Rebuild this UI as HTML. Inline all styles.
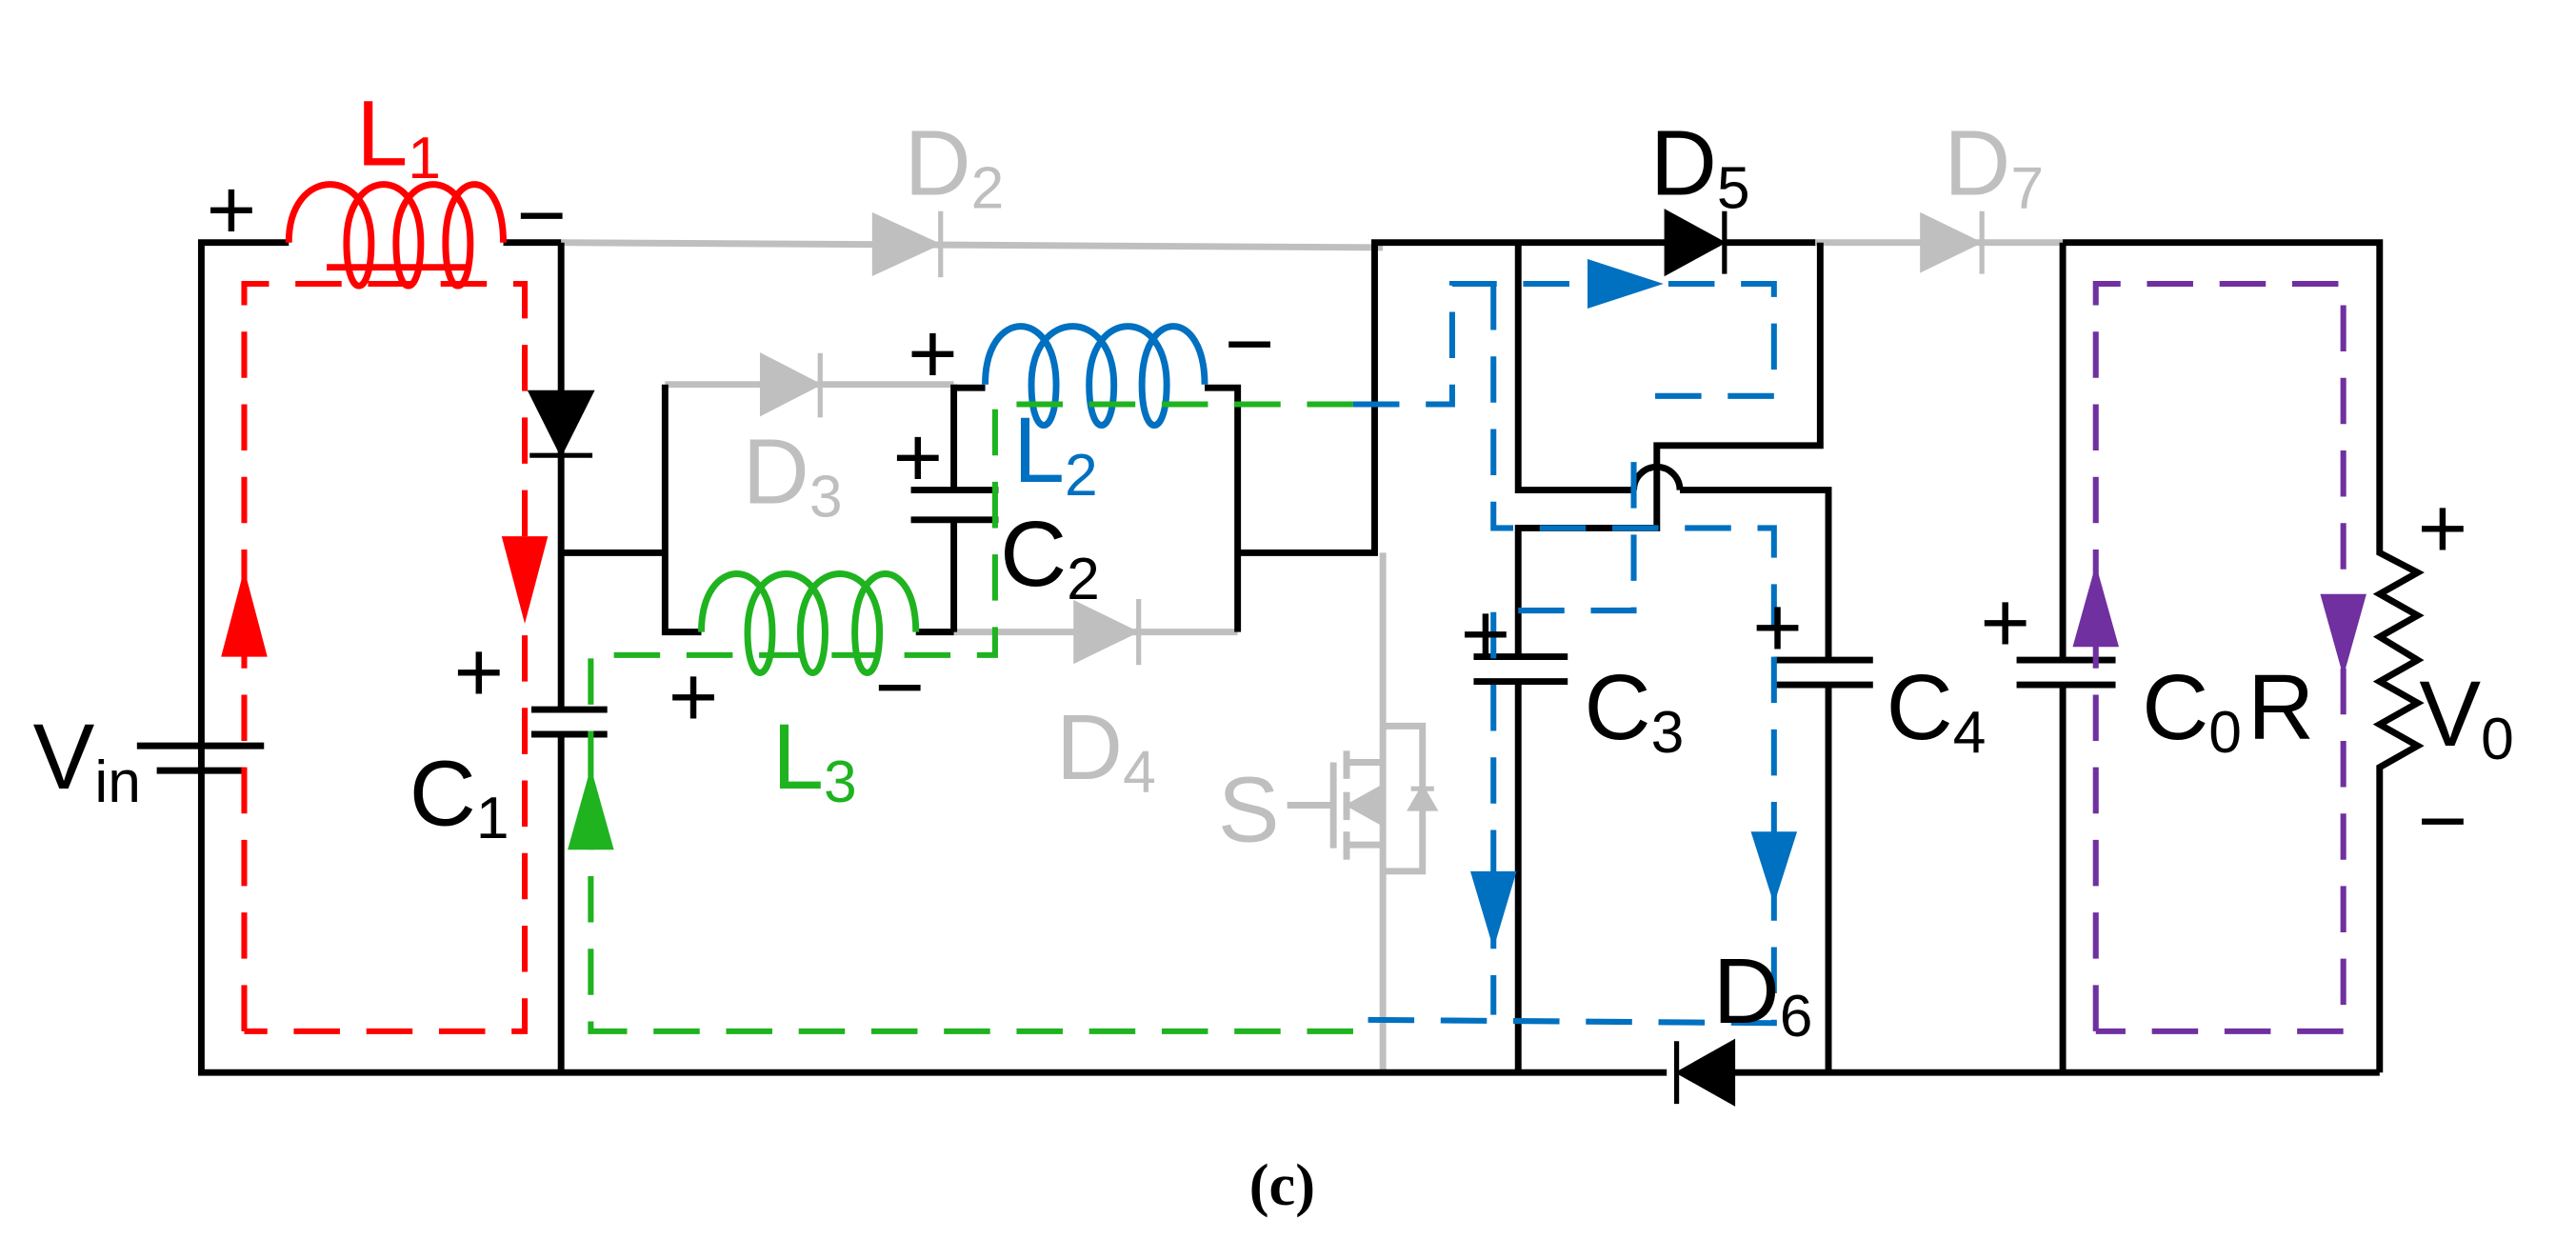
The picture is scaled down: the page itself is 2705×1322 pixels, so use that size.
<!DOCTYPE html>
<html><head><meta charset="utf-8"><style>html,body{margin:0;padding:0;background:#fff;width:2705px;height:1322px;overflow:hidden}svg{display:block}</style></head>
<body>
<svg width="2705" height="1322" viewBox="0 0 1561 763" preserveAspectRatio="none" xmlns="http://www.w3.org/2000/svg" font-family="Liberation Sans, DejaVu Sans, sans-serif">
<g fill="none" stroke-linecap="butt">
<g stroke="#bfbfbf" stroke-width="4">
<line x1="340" y1="147" x2="838" y2="150"/>
<line x1="403" y1="233" x2="578" y2="233"/>
<line x1="578" y1="383" x2="750" y2="383"/>
<line x1="1100" y1="147" x2="1250" y2="147"/>
<line x1="838" y1="335" x2="838" y2="650"/>
<line x1="780" y1="488" x2="808" y2="488"/>
<line x1="808" y1="462" x2="808" y2="514"/>
<line x1="816" y1="455" x2="816" y2="472"/><line x1="816" y1="480" x2="816" y2="497"/><line x1="816" y1="504" x2="816" y2="521"/>
<polyline points="816,462 838,462"/><polyline points="816,512 838,512"/>
<polyline points="838,440 862,440 862,528 838,528"/>
<line x1="816" y1="488" x2="838" y2="488"/>
</g>
<g fill="#bfbfbf" stroke="#bfbfbf" stroke-width="3">
<polygon points="530,131 567,148 530,165"/><line x1="570" y1="128" x2="570" y2="168"/>
<polygon points="462,216 495,233 462,250"/><line x1="497" y1="214" x2="497" y2="253"/>
<polygon points="652,366 687,383 652,400"/><line x1="690" y1="363" x2="690" y2="403"/>
<polygon points="1165,131 1198,147 1165,163"/><line x1="1201" y1="128" x2="1201" y2="166"/>
<polygon points="818,488 836,478 836,498"/>
<polygon points="862,478 855,490 869,490"/><line x1="855" y1="478" x2="869" y2="478"/>
</g>
<g stroke="#000" stroke-width="4">
<polyline points="175,147 122,147 122,650 1010,650"/>
<line x1="1050" y1="650" x2="1442" y2="650"/>
<line x1="305" y1="147" x2="340" y2="147"/>
<line x1="340" y1="147" x2="340" y2="430"/>
<line x1="340" y1="445" x2="340" y2="650"/>
<line x1="322" y1="430" x2="368" y2="430"/><line x1="322" y1="445" x2="368" y2="445"/>
<line x1="83" y1="452" x2="160" y2="452"/><line x1="95" y1="467" x2="148" y2="467"/>
<line x1="340" y1="335" x2="403" y2="335"/>
<polyline points="403,233 403,383 425,383"/>
<line x1="555" y1="383" x2="578" y2="383"/>
<line x1="578" y1="233" x2="578" y2="297"/><line x1="578" y1="315" x2="578" y2="383"/>
<line x1="552" y1="297" x2="605" y2="297"/><line x1="552" y1="315" x2="605" y2="315"/>
<line x1="578" y1="235" x2="597" y2="235"/>
<polyline points="730,235 750,235 750,383"/>
<polyline points="750,335 833,335 833,147 1010,147"/>
<line x1="1045" y1="147" x2="1100" y2="147"/>
<polyline points="920,147 920,297 990,297"/>
<path d="M990,297 A14,14 0 0 1 1018,297"/>
<polyline points="1018,297 1108,297 1108,400"/>
<line x1="1108" y1="415" x2="1108" y2="650"/>
<line x1="1075" y1="400" x2="1135" y2="400"/><line x1="1075" y1="415" x2="1135" y2="415"/>
<polyline points="1103,147 1103,270 1004,270 1004,320 920,320 920,398"/>
<line x1="920" y1="413" x2="920" y2="650"/>
<line x1="893" y1="398" x2="950" y2="398"/><line x1="893" y1="413" x2="950" y2="413"/>
<polyline points="1250,147 1442,147 1442,335 1465,347 1442,360 1465,373 1442,386 1465,400 1442,413 1465,426 1442,439 1465,452 1442,465 1442,650"/>
<line x1="1250" y1="147" x2="1250" y2="400"/><line x1="1250" y1="415" x2="1250" y2="650"/>
<line x1="1222" y1="400" x2="1282" y2="400"/><line x1="1222" y1="415" x2="1282" y2="415"/>
</g>
<g fill="#000" stroke="#000" stroke-width="3">
<polygon points="322,238 358,238 340,274"/><line x1="321" y1="276" x2="359" y2="276"/>
<polygon points="1010,129 1043,147 1010,165"/><line x1="1045" y1="128" x2="1045" y2="166"/>
<polygon points="1050,632 1050,668 1018,650"/><line x1="1016" y1="631" x2="1016" y2="669"/>
</g>
<path stroke="#f00" stroke-width="4" d="M175,147 C175,100 225,100 225,147 C225,182 210,182 210,147 C210,100 255,100 255,147 C255,182 240,182 240,147 C240,100 285,100 285,147 C285,182 270,182 270,147 C270,100 305,100 305,147"/>
<line stroke="#f00" stroke-width="4" x1="198" y1="162" x2="285" y2="162"/>
<path stroke="#0070c0" stroke-width="4" d="M597,233 C597,186 640,186 640,233 C640,266 625,266 625,233 C625,186 675,186 675,233 C675,266 660,266 660,233 C660,186 707,186 707,233 C707,266 692,266 692,233 C692,186 730,186 730,233"/>
<path stroke="#1fb31f" stroke-width="4" d="M425,383 C425,336 468,336 468,383 C468,416 453,416 453,383 C453,336 500,336 500,383 C500,416 485,416 485,383 C485,336 533,336 533,383 C533,416 518,416 518,383 C518,336 555,336 555,383"/>
<g stroke-width="3.5" stroke-dasharray="28,16">
<polyline stroke="#f00" points="148,625 148,172 318,172 318,625 148,625"/>
<polyline stroke="#1fb31f" points="820,625 358,625 358,397 603,397 603,245 820,245"/>
<polyline stroke="#0070c0" points="820,245 880,245 880,172 1075,172 1075,240 990,240"/>
<polyline stroke="#0070c0" points="905,172 905,320 1075,320 1075,620 820,618"/>
<polyline stroke="#0070c0" points="990,280 990,370 905,370 905,615"/>
<polyline stroke="#7030a0" points="1270,625 1270,172 1420,172 1420,625 1270,625"/>
</g>
</g>
<polygon fill="#f00" points="148,345 134,398 162,398"/>
<polygon fill="#f00" points="318,378 304,325 332,325"/>
<polygon fill="#1fb31f" points="358,465 344,515 372,515"/>
<polygon fill="#0070c0" points="1008,172 962,157 962,187"/>
<polygon fill="#0070c0" points="905,575 891,528 919,528"/>
<polygon fill="#0070c0" points="1075,548 1061,504 1089,504"/>
<polygon fill="#7030a0" points="1270,342 1256,392 1284,392"/>
<polygon fill="#7030a0" points="1420,410 1406,360 1434,360"/>
<g font-size="56">
<text x="216" y="100" fill="#f00">L<tspan font-size="36" dy="8">1</tspan></text>
<text x="548" y="118" fill="#bfbfbf">D<tspan font-size="36" dy="8">2</tspan></text>
<text x="1000" y="118" fill="#000">D<tspan font-size="36" dy="8">5</tspan></text>
<text x="1178" y="118" fill="#bfbfbf">D<tspan font-size="36" dy="8">7</tspan></text>
<text x="450" y="305" fill="#bfbfbf">D<tspan font-size="36" dy="8">3</tspan></text>
<text x="614" y="292" fill="#0070c0">L<tspan font-size="36" dy="8">2</tspan></text>
<text x="606" y="355" fill="#000">C<tspan font-size="36" dy="8">2</tspan></text>
<text x="468" y="478" fill="#1fb31f">L<tspan font-size="36" dy="8">3</tspan></text>
<text x="640" y="472" fill="#bfbfbf">D<tspan font-size="36" dy="8">4</tspan></text>
<text x="248" y="500" fill="#000">C<tspan font-size="36" dy="8">1</tspan></text>
<text x="20" y="478" fill="#000">V<tspan font-size="36" dy="8">in</tspan></text>
<text x="738" y="510" fill="#bfbfbf">S</text>
<text x="960" y="448" fill="#000">C<tspan font-size="36" dy="8">3</tspan></text>
<text x="1143" y="448" fill="#000">C<tspan font-size="36" dy="8">4</tspan></text>
<text x="1298" y="448" fill="#000">C<tspan font-size="36" dy="8">0</tspan></text>
<text x="1362" y="448" fill="#000">R</text>
<text x="1466" y="452" fill="#000">V<tspan font-size="36" dy="8">0</tspan></text>
<text x="1038" y="620" fill="#000">D<tspan font-size="36" dy="8">6</tspan></text>
</g>
<g font-size="52" fill="#000">
<text x="125" y="145">+</text><text x="313" y="148">−</text>
<text x="550" y="232">+</text><text x="742" y="226">−</text>
<text x="541" y="295">+</text>
<text x="405" y="440">+</text><text x="530" y="434">−</text>
<text x="275" y="425">+</text>
<text x="885" y="402">+</text><text x="1062" y="398">+</text><text x="1200" y="395">+</text>
<text x="1465" y="338">+</text><text x="1465" y="515">−</text>
</g>
<text x="757" y="730" font-family="Liberation Serif, serif" font-weight="bold" font-size="36" fill="#000">(c)</text>
</svg>
</body></html>
